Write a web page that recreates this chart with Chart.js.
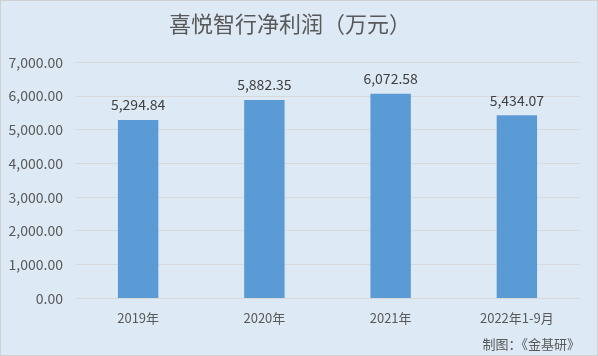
<!DOCTYPE html>
<html><head><meta charset="utf-8">
<script src="https://cdn.jsdelivr.net/npm/chart.js@4/dist/chart.umd.min.js"></script>
<style>html,body{margin:0;padding:0;background:#dde9f5;}#c{display:block;}</style>
</head><body>
<canvas id="c" width="598" height="356"></canvas>
<script>
const categories = ['2019年', '2020年', '2021年', '2022年1-9月'];
const netProfit = [5294.84, 5882.35, 6072.58, 5434.07];
const titleText = '喜悦智行净利润（万元）';
const footerText = '制图：《金基研》';
const FONT = "'Noto Sans CJK SC', 'Open Sans', sans-serif";

const fmt = v => v.toLocaleString('en-US', {minimumFractionDigits: 2, maximumFractionDigits: 2});

const bgPlugin = {
  id: 'bg',
  beforeDraw(chart) {
    const ctx = chart.ctx;
    ctx.save();
    ctx.fillStyle = '#dde9f5';
    ctx.fillRect(0, 0, chart.width, chart.height);
    ctx.restore();
  },
  afterDraw(chart) {
    const ctx = chart.ctx;
    ctx.save();
    ctx.strokeStyle = '#d0d0d0';
    ctx.lineWidth = 1;
    ctx.strokeRect(0.5, 0.5, chart.width - 1, chart.height - 1);
    ctx.restore();
  }
};

const labelPlugin = {
  id: 'vlabels',
  afterDatasetsDraw(chart) {
    const ctx = chart.ctx;
    const meta = chart.getDatasetMeta(0);
    ctx.save();
    ctx.font = '14px ' + FONT;
    ctx.fillStyle = '#404040';
    ctx.textAlign = 'center';
    ctx.textBaseline = 'bottom';
    meta.data.forEach((bar, i) => {
      ctx.fillText(fmt(netProfit[i]), bar.x, bar.y - 8);
    });
    ctx.restore();
  }
};

new Chart(document.getElementById('c'), {
  type: 'bar',
  data: {
    labels: categories,
    datasets: [{
      data: netProfit,
      backgroundColor: '#5b9bd5',
      barPercentage: 0.64,
      categoryPercentage: 0.5
    }]
  },
  options: {
    responsive: false,
    animation: false,
    layout: { padding: { left: 0, right: 18, top: 0, bottom: 4 } },
    plugins: {
      legend: { display: false },
      tooltip: { enabled: false },
      title: {
        display: true, text: titleText, color: '#595959',
        font: { family: FONT, size: 22, weight: 'normal' },
        padding: { top: 10, bottom: 26 }
      },
      subtitle: {
        display: true, text: footerText, position: 'bottom', align: 'end',
        color: '#595959', font: { family: FONT, size: 13, weight: 'normal' },
        padding: { top: 0, bottom: 0 }
      }
    },
    scales: {
      x: {
        grid: { display: false, drawTicks: false },
        border: { display: true, color: '#d9d9d9' },
        ticks: { color: '#595959', font: { family: FONT, size: 13 }, padding: 12, maxRotation: 0 },
        afterFit(s) { s.height = 38; }
      },
      y: {
        min: 0, max: 7000,
        grid: { color: '#d9d9d9', drawTicks: false },
        border: { display: false },
        ticks: {
          stepSize: 1000, color: '#595959', padding: 12,
          font: { family: FONT, size: 14 },
          callback: v => fmt(v)
        },
        afterFit(s) { s.width = 75; }
      }
    }
  },
  plugins: [bgPlugin, labelPlugin]
});
</script>
</body></html>
